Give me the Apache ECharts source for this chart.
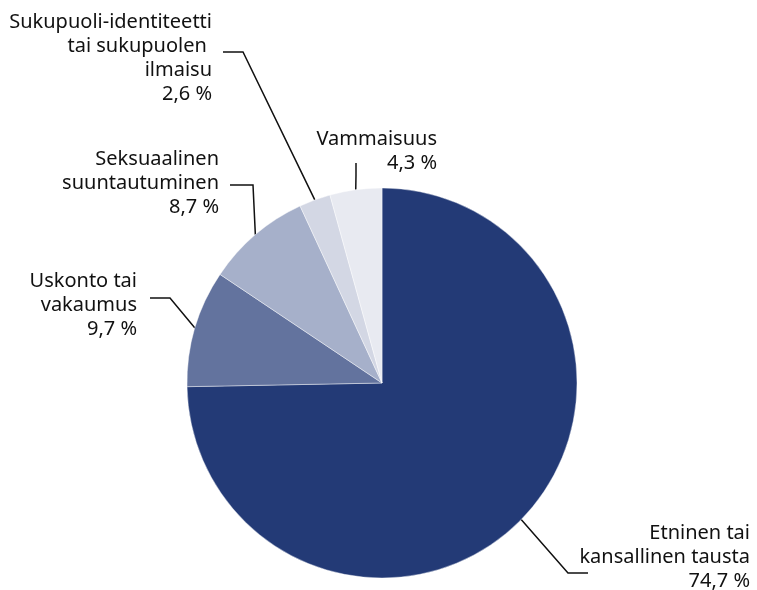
<!DOCTYPE html>
<html>
<head>
<meta charset="utf-8">
<script src="https://cdn.jsdelivr.net/npm/echarts@6/dist/echarts.min.js"></script>
<style>
  html, body { margin: 0; padding: 0; background: #fff; }
  #chart { width: 757px; height: 590px; }
</style>
</head>
<body>
<div id="chart"></div>
<script>
  // categories in clockwise order from 12 o'clock
  var categories = [
    'Etninen tai\nkansallinen tausta',
    'Uskonto tai\nvakaumus',
    'Seksuaalinen\nsuuntautuminen',
    'Sukupuoli-identiteetti\ntai sukupuolen \nilmaisu',
    'Vammaisuus'
  ];
  var values = [74.7, 9.7, 8.7, 2.6, 4.3];
  var colors = ['#233a76', '#63739e', '#a6b0ca', '#d3d7e4', '#e8eaf1'];

  // label anchor (x, y = top of text), and elbow/end of the leader line
  var labelPos = [
    { x: 750, y: 521, line: [[568, 573], [588, 573]] },
    { x: 137, y: 269, line: [[170, 298], [150, 298]] },
    { x: 219, y: 147, line: [[253, 185], [230, 185]] },
    { x: 212, y: 10,  line: [[243, 52], [223, 52]] },
    { x: 437, y: 127, line: [[356, 175], [356, 163]] }
  ];

  var chart = echarts.init(document.getElementById('chart'));
  chart.setOption({
    animation: false,
    series: [{
      type: 'pie',
      center: [382, 383],
      radius: 195,
      startAngle: 90,
      clockwise: true,
      silent: true,
      itemStyle: { borderColor: 'rgba(255,255,255,0.7)', borderWidth: 0.6 },
      label: {
        show: true,
        color: '#111',
        fontFamily: 'Noto Sans',
        fontSize: 20,
        lineHeight: 24,
        overflow: 'none',
        formatter: function (p) {
          return p.name + '\n' + p.value.toFixed(1).replace('.', ',') + ' %';
        }
      },
      labelLine: {
        show: true,
        lineStyle: { color: '#111', width: 1.5 }
      },
      labelLayout: function (params) {
        var pos = labelPos[params.dataIndex];
        var start = params.labelLinePoints ? params.labelLinePoints[0] : pos.line[0];
        return {
          x: pos.x,
          y: pos.y,
          align: 'right',
          verticalAlign: 'top',
          width: 260,
          labelLinePoints: [start, pos.line[0], pos.line[1]]
        };
      },
      data: categories.map(function (c, i) {
        return { name: c, value: values[i], itemStyle: { color: colors[i] } };
      })
    }]
  });
</script>
</body>
</html>
